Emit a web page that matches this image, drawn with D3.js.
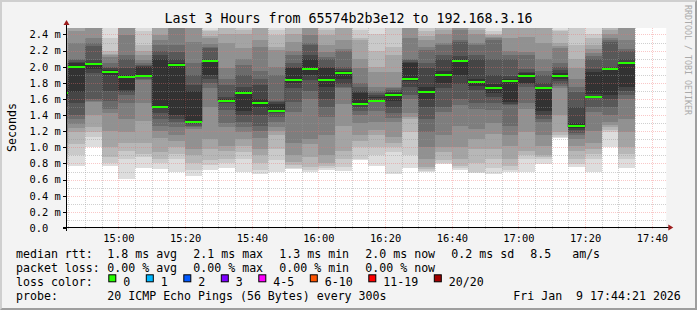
<!DOCTYPE html>
<html>
<head>
<meta charset="utf-8">
<title>SmokePing - Last 3 Hours</title>
<script src="https://d3js.org/d3.v7.min.js"></script>
<style>
  html, body { margin: 0; padding: 0; background: #f3f3f3; overflow: hidden; }
  svg { display: block; }
  text { font-family: "DejaVu Sans Mono", monospace; fill: #000; white-space: pre; }
</style>
</head>
<body>
<svg width="697" height="310"></svg>
<script>
// time window of the graph
const timeRange = ["14:44:21", "17:44:21"];

// start of each 5 minute step
const slotStart = ["14:40","14:45","14:50","14:55","15:00","15:05","15:10","15:15","15:20","15:25",
  "15:30","15:35","15:40","15:45","15:50","15:55","16:00","16:05","16:10","16:15",
  "16:20","16:25","16:30","16:35","16:40","16:45","16:50","16:55","17:00","17:05",
  "17:10","17:15","17:20","17:25","17:30"];

// median rtt per step (ms)
const median = [1.67, 2.00, 2.03, 1.94, 1.87, 1.89, 1.50, 2.02, 1.32, 2.07,
  1.57, 1.68, 1.55, 1.45, 1.84, 1.97, 1.84, 1.92, 1.54, 1.57,
  1.65, 1.85, 1.69, 1.90, 2.07, 1.81, 1.73, 1.82, 1.89, 1.74,
  1.88, 1.26, 1.63, 1.97, 2.04];

// 20 sorted pings per step (ms)
const pings = [
  [0.78,0.80,0.85,0.92,1.05,1.20,1.35,1.50,1.60,1.64,1.70,1.74,1.80,1.90,2.05,2.20,2.35,2.55,2.80,3.10],
  [0.77,0.90,1.04,1.19,1.24,1.29,1.35,1.40,1.55,1.69,2.04,2.06,2.08,2.10,2.29,2.44,2.60,2.80,3.00,3.30],
  [1.01,1.13,1.19,1.25,1.40,1.56,1.58,1.60,1.92,1.97,2.05,2.08,2.26,2.30,2.35,2.55,2.70,2.90,3.10,3.40],
  [0.77,0.80,0.88,1.00,1.20,1.42,1.48,1.58,1.70,1.90,1.96,1.98,2.00,2.05,2.12,2.14,2.16,2.19,2.35,2.60],
  [0.61,0.86,0.95,1.05,1.19,1.35,1.55,1.65,1.69,1.71,1.90,1.98,2.10,2.14,2.39,2.60,2.80,3.00,3.20,3.50],
  [0.75,0.88,0.92,1.06,1.33,1.55,1.83,1.85,1.87,1.89,2.00,2.01,2.02,2.04,2.08,2.14,2.20,2.27,2.44,2.60],
  [0.73,0.81,0.86,0.94,1.11,1.20,1.27,1.35,1.42,1.50,2.10,2.14,2.20,2.27,2.33,2.39,2.60,2.80,3.00,3.30],
  [0.69,0.86,0.92,1.00,1.08,1.15,1.25,1.31,1.35,1.40,2.04,2.10,2.18,2.27,2.60,2.80,3.00,3.20,3.40,3.70],
  [0.65,0.72,0.81,0.90,0.98,1.23,1.25,1.27,1.29,1.31,1.70,1.77,1.90,2.05,2.31,2.60,2.80,3.00,3.30,3.60],
  [0.72,0.78,0.84,0.98,1.10,1.50,1.73,1.80,1.85,1.90,2.08,2.10,2.23,2.25,2.28,2.35,2.38,2.44,2.46,2.60],
  [0.75,0.80,0.86,0.95,1.02,1.25,1.30,1.46,1.55,1.57,1.60,1.62,1.77,1.85,1.98,2.29,2.41,2.60,2.80,3.00],
  [0.69,0.86,0.94,1.02,1.10,1.19,1.25,1.31,1.40,1.45,1.70,1.75,1.90,2.02,2.10,2.23,2.41,2.45,2.60,2.80],
  [0.67,0.72,0.81,0.90,0.98,1.11,1.20,1.27,1.40,1.50,1.60,1.77,1.85,1.95,2.25,2.33,2.60,2.80,3.00,3.30],
  [0.70,0.84,0.98,1.15,1.20,1.25,1.31,1.38,1.42,1.45,1.54,1.56,1.58,1.90,2.00,2.21,2.25,2.39,2.45,2.60],
  [0.73,0.75,0.78,0.82,0.90,1.06,1.44,1.56,1.73,1.80,1.98,2.00,2.05,2.14,2.20,2.31,2.41,2.60,2.80,3.00],
  [0.69,0.72,0.76,0.88,1.04,1.10,1.60,1.70,1.83,1.90,2.10,2.15,2.27,2.30,2.39,2.60,2.80,3.00,3.20,3.50],
  [0.72,0.74,0.77,0.80,0.90,1.15,1.38,1.50,1.60,1.75,1.98,2.00,2.10,2.12,2.18,2.27,2.39,2.45,2.60,2.80],
  [0.71,0.76,0.86,0.95,1.27,1.54,1.73,1.75,1.78,1.85,1.95,1.97,2.00,2.19,2.22,2.33,2.60,2.80,3.00,3.20],
  [0.84,0.86,1.00,1.08,1.15,1.30,1.40,1.45,1.50,1.54,1.67,1.70,1.75,1.80,1.98,2.10,2.33,2.36,2.46,2.60],
  [0.77,0.90,1.00,1.15,1.22,1.31,1.45,1.57,1.59,1.61,1.63,1.65,1.67,1.70,1.75,1.94,2.00,2.19,2.41,2.60],
  [0.67,0.94,1.00,1.05,1.13,1.31,1.36,1.42,1.50,1.58,1.67,1.69,1.71,1.73,1.75,1.94,2.14,2.25,2.60,2.80],
  [0.75,0.90,1.19,1.35,1.38,1.42,1.60,1.65,1.75,1.82,2.04,2.06,2.08,2.10,2.35,2.60,2.80,3.00,3.20,3.50],
  [0.69,0.71,0.73,0.76,0.86,1.00,1.19,1.35,1.50,1.60,1.75,1.98,2.05,2.21,2.25,2.33,2.38,2.44,2.60,2.80],
  [0.79,0.81,0.84,0.94,1.00,1.15,1.44,1.50,1.73,1.80,1.95,2.10,2.15,2.27,2.30,2.41,2.45,2.60,2.80,3.00],
  [0.72,0.74,0.77,0.86,1.00,1.27,1.52,1.60,1.79,1.90,2.10,2.13,2.31,2.33,2.46,2.60,2.80,3.00,3.20,3.50],
  [0.68,0.70,0.81,0.98,1.10,1.23,1.48,1.55,1.71,1.76,1.85,2.10,2.15,2.27,2.30,2.41,2.45,2.60,2.80,3.00],
  [0.67,0.75,0.85,0.98,1.17,1.30,1.46,1.55,1.63,1.68,1.78,1.90,2.10,2.33,2.35,2.37,2.39,2.41,2.44,2.60],
  [0.69,0.72,0.77,0.85,1.02,1.15,1.27,1.52,1.54,1.56,1.85,1.88,2.10,2.14,2.19,2.35,2.60,2.80,3.00,3.20],
  [0.69,0.86,0.90,0.95,1.19,1.48,1.55,1.75,1.78,1.80,1.92,1.94,1.97,2.14,2.18,2.37,2.60,2.80,3.00,3.20],
  [0.79,0.86,0.88,0.90,1.02,1.15,1.31,1.35,1.40,1.45,1.74,1.80,1.90,1.95,2.10,2.30,2.60,2.80,3.00,3.20],
  [1.11,1.13,1.15,1.19,1.40,1.73,1.76,1.79,1.82,1.85,1.92,1.96,2.00,2.05,2.23,2.26,2.30,2.44,2.46,2.60],
  [0.76,0.79,0.86,0.95,1.02,1.10,1.15,1.18,1.21,1.24,1.30,1.50,1.69,1.75,1.85,1.98,2.10,2.27,2.60,2.80],
  [0.69,0.86,0.92,0.98,1.06,1.20,1.44,1.50,1.63,1.66,1.94,1.97,2.10,2.13,2.17,2.22,2.27,2.35,2.41,2.60],
  [1.00,1.19,1.22,1.25,1.28,1.31,1.40,1.50,1.60,1.65,1.97,2.00,2.31,2.33,2.35,2.41,2.45,2.48,2.60,2.80],
  [0.75,0.85,0.92,1.00,1.19,1.35,1.60,1.65,1.70,1.75,2.06,2.10,2.19,2.22,2.33,2.60,2.80,3.00,3.20,3.50]
];

// legend texts
const title = "Last 3 Hours from 65574b2b3e12 to 192.168.3.16";
const rttItems = ["1.8 ms avg", "2.1 ms max", "1.3 ms min", "2.0 ms now", "0.2 ms sd", "8.5   am/s"];
const lossItems = ["0.00 % avg", "0.00 % max", "0.00 % min", "0.00 % now"];
const lossLabels = ["0", "1", "2", "3", "4-5", "6-10", "11-19", "20/20"];
const lossColors = ["#26ff00", "#00b8ff", "#0059ff", "#7e00ff", "#ff00ff", "#ff5500", "#ff0000", "#a00000"];
const probeText = "20 ICMP Echo Pings (56 Bytes) every 300s";
const stampText = "Fri Jan  9 17:44:21 2026";

const W = 697, H = 310;
const pL = 67, pT = 28, pR = 666.3, pB = 228;
const charW = 7.0;

const parse = d3.utcParse("%Y-%m-%d %H:%M:%S");
const t = s => parse("2026-01-09 " + s);

const x = d3.scaleUtc().domain([t(timeRange[0]), t(timeRange[1])]).range([66.3, 666.3]);
const y = d3.scaleLinear().domain([0, 2.48]).range([pB, pT]);

const svg = d3.select("svg");

// frame like rrdtool
svg.append("rect").attr("width", W).attr("height", H).attr("fill", "#9e9e9e");
svg.append("path").attr("d", `M0,0H${W}L${W - 2},2H2V${H - 2}L0,${H}Z`).attr("fill", "#cfcfcf");
svg.append("rect").attr("x", 2).attr("y", 2).attr("width", W - 4).attr("height", H - 4).attr("fill", "#f3f3f3");

// canvas
svg.append("rect").attr("x", pL).attr("y", pT).attr("width", pR - pL).attr("height", pB - pT).attr("fill", "#fff");

svg.append("clipPath").attr("id", "plotclip")
  .append("rect").attr("x", pL).attr("y", pT).attr("width", pR - pL).attr("height", pB - pT);

const bars = slotStart.map((s, i) => {
  const t0 = t(s + ":00");
  return {
    x0: Math.round(x(t0)),
    x1: Math.round(x(d3.utcMinute.offset(t0, 5))),
    p: pings[i],
    m: median[i]
  };
});

// smoke: nested bands, outer pair lightest
const plot = svg.append("g").attr("clip-path", "url(#plotclip)");
plot.selectAll("g.bar")
  .data(bars)
  .join("g")
  .attr("class", "bar")
  .selectAll("rect")
  .data(b => d3.range(10).map(k => ({ b, lo: b.p[k], hi: b.p[19 - k], g: 221 - 19 * k })))
  .join("rect")
  .attr("x", d => d.b.x0)
  .attr("width", d => d.b.x1 - d.b.x0)
  .attr("y", d => Math.round(y(d.hi)))
  .attr("height", d => Math.round(y(d.lo)) - Math.round(y(d.hi)))
  .attr("fill", d => d3.rgb(d.g, d.g, d.g));

// grid
const grid = svg.append("g");
const hMinor = y.ticks(25).filter(v => v > 0 && Math.round(v * 10) % 2 !== 0);
const hMajor = y.ticks(12).filter(v => v > 0);
const vMinor = x.ticks(d3.utcMinute.every(5));
const vMajor = x.ticks(d3.utcMinute.every(20));
const minorCol = "rgba(150,150,150,0.45)", majorCol = "rgba(240,110,110,0.38)";

grid.selectAll("line.hmin").data(hMinor).join("line")
  .attr("x1", pL).attr("x2", pR)
  .attr("y1", d => Math.round(y(d)) + 0.5).attr("y2", d => Math.round(y(d)) + 0.5)
  .attr("stroke", minorCol).attr("stroke-dasharray", "1,1");
grid.selectAll("line.vmin").data(vMinor.filter(v => v.getUTCMinutes() % 20 !== 0)).join("line")
  .attr("y1", pT).attr("y2", pB + 2)
  .attr("x1", d => Math.round(x(d)) + 0.5).attr("x2", d => Math.round(x(d)) + 0.5)
  .attr("stroke", minorCol).attr("stroke-dasharray", "1,1");
grid.selectAll("line.hmaj").data(hMajor).join("line")
  .attr("x1", pL).attr("x2", pR)
  .attr("y1", d => Math.round(y(d)) + 0.5).attr("y2", d => Math.round(y(d)) + 0.5)
  .attr("stroke", majorCol).attr("stroke-dasharray", "1,1");
grid.selectAll("line.vmaj").data(vMajor).join("line")
  .attr("y1", pT).attr("y2", pB + 2)
  .attr("x1", d => Math.round(x(d)) + 0.5).attr("x2", d => Math.round(x(d)) + 0.5)
  .attr("stroke", majorCol).attr("stroke-dasharray", "1,1");

// median: dark step line plus green marks
const medG = svg.append("g").attr("clip-path", "url(#plotclip)");
let d = "";
bars.forEach((b, i) => {
  const yy = Math.round(y(b.m)) + 0.5;
  d += (i === 0 ? `M${b.x0},${yy}` : `V${yy}`) + `H${b.x1}`;
});
medG.append("path").attr("d", d).attr("fill", "none")
  .attr("stroke", "#202020").attr("stroke-dasharray", "1,1");
medG.selectAll("rect").data(bars).join("rect")
  .attr("x", b => b.x0).attr("width", b => b.x1 - b.x0)
  .attr("y", b => Math.round(y(b.m)) - 1).attr("height", 2)
  .attr("fill", lossColors[0]);

// axes
const axisCol = "#000", arrowCol = "#9c1c1c";
svg.append("line").attr("x1", 66.5).attr("x2", 66.5).attr("y1", pB + 3).attr("y2", pT - 4).attr("stroke", axisCol);
svg.append("line").attr("x1", 63).attr("x2", pR + 3).attr("y1", pB - 0.5).attr("y2", pB - 0.5).attr("stroke", axisCol);
svg.append("path").attr("d", `M63.5,${pT - 3}L66.5,${pT - 8}L69.5,${pT - 3}Z`).attr("fill", arrowCol);
svg.append("path").attr("d", `M${pR + 2},${pB - 3.5}L${pR + 7},${pB - 0.5}L${pR + 2},${pB + 2.5}Z`).attr("fill", arrowCol);

svg.selectAll("line.ytick").data(y.ticks(12)).join("line")
  .attr("x1", 63).attr("x2", 66)
  .attr("y1", v => Math.round(y(v)) + 0.5).attr("y2", v => Math.round(y(v)) + 0.5)
  .attr("stroke", axisCol);

svg.selectAll("text.ylab").data(y.ticks(12)).join("text")
  .attr("x", 29.5).attr("y", v => y(v) + 3.8)
  .style("font-size", "10.4px")
  .text(v => v === 0 ? "0.0" : d3.format(".1f")(v) + " m");

svg.selectAll("text.xlab").data(vMajor).join("text")
  .attr("x", v => x(v) + 0.5).attr("y", 242)
  .attr("text-anchor", "middle")
  .style("font-size", "10.4px")
  .text(d3.utcFormat("%H:%M"));

// titles
svg.append("text").attr("x", W / 2).attr("y", 23.3).attr("text-anchor", "middle")
  .style("font-size", "13.3px").text(title);
svg.append("text").attr("transform", "translate(15.5,127.5) rotate(-90)").attr("text-anchor", "middle")
  .style("font-size", "11.6px").text("Seconds");
svg.append("text").attr("transform", "translate(685,5) rotate(90)")
  .style("font-size", "8.3px").style("fill", "#aaa").text("RRDTOOL / TOBI OETIKER");

// legend
const legend = svg.append("g").style("font-size", "11.6px");
const lineY = [258.3, 272.3, 286.3, 300.3];
const itemX0 = 107.3;

legend.append("text").attr("x", 16).attr("y", lineY[0]).text("median rtt:");
let cx = itemX0;
rttItems.forEach(s => {
  legend.append("text").attr("x", cx).attr("y", lineY[0]).text(s);
  cx += s.length * charW + 16;
});

legend.append("text").attr("x", 16).attr("y", lineY[1]).text("packet loss:");
cx = itemX0;
lossItems.forEach(s => {
  legend.append("text").attr("x", cx).attr("y", lineY[1]).text(s);
  cx += s.length * charW + 16;
});

legend.append("text").attr("x", 16).attr("y", lineY[2]).text("loss color:");
cx = 108.3;
lossLabels.forEach((s, i) => {
  legend.append("rect").attr("x", cx + 0.5).attr("y", lineY[2] - 11.5).attr("width", 7).attr("height", 7)
    .attr("fill", lossColors[i]).attr("stroke", "#000");
  legend.append("text").attr("x", cx + 15).attr("y", lineY[2]).text(s);
  cx += 15 + s.length * charW + 15.5;
});

legend.append("text").attr("x", 16).attr("y", lineY[3]).text("probe:");
legend.append("text").attr("x", itemX0).attr("y", lineY[3]).text(probeText);
legend.append("text").attr("x", 513.3).attr("y", lineY[3]).text(stampText);
</script>
</body>
</html>
